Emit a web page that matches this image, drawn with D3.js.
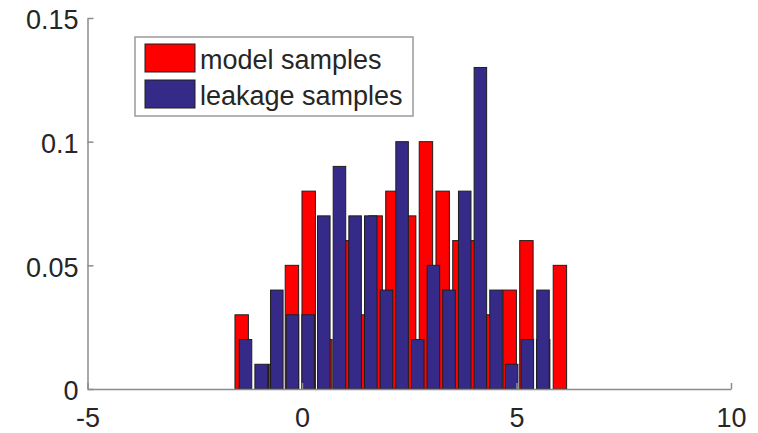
<!DOCTYPE html>
<html>
<head>
<meta charset="utf-8">
<script src="https://cdn.jsdelivr.net/npm/d3@7"></script>
<style>
  html, body { margin: 0; padding: 0; background: #ffffff; }
  svg { display: block; }
  text { font-family: "Liberation Sans", Arial, Helvetica, sans-serif; fill: #262626; }
</style>
</head>
<body>
<svg id="chart" width="758" height="433"></svg>
<script>
// Histogram bin centres and normalised counts for the two sample sets
const modelCenters = [-1.406, -1.015, -0.625, -0.235, 0.156, 0.546, 0.937, 1.327, 1.717, 2.108,
                      2.498, 2.889, 3.279, 3.670, 4.060, 4.450, 4.841, 5.231, 5.622, 6.012];
const modelValues  = [0.03, 0.00, 0.01, 0.05, 0.08, 0.02, 0.06, 0.03, 0.07, 0.08,
                      0.07, 0.10, 0.08, 0.06, 0.06, 0.03, 0.04, 0.06, 0.02, 0.05];

const leakageCenters = [-1.317, -0.952, -0.587, -0.222, 0.143, 0.508, 0.873, 1.238, 1.603, 1.968,
                        2.333, 2.698, 3.063, 3.428, 3.793, 4.158, 4.523, 4.888, 5.253, 5.618];
const leakageValues  = [0.02, 0.01, 0.04, 0.03, 0.03, 0.07, 0.09, 0.07, 0.07, 0.04,
                        0.10, 0.02, 0.05, 0.04, 0.08, 0.13, 0.04, 0.01, 0.02, 0.04];

const seriesNames = ["model samples", "leakage samples"];
const xTicks = [-5, 0, 5, 10];
const xTickLabels = ["-5", "0", "5", "10"];
const yTicks = [0, 0.05, 0.1, 0.15];
const yTickLabels = ["0", "0.05", "0.1", "0.15"];

const colors = ["#ff0000", "#352a87"];
const barFraction = 0.8;

const svg = d3.select("#chart");

const x = d3.scaleLinear().domain([-5, 10]).range([87.5, 731]);
const y = d3.scaleLinear().domain([0, 0.15]).range([389, 18]);

function drawSeries(centers, values, color) {
  const step = centers[1] - centers[0];
  const w = step * barFraction;
  svg.append("g")
    .selectAll("rect")
    .data(centers.map((c, i) => ({ c, v: values[i] })).filter(d => d.v > 0))
    .join("rect")
      .attr("x", d => x(d.c - w / 2))
      .attr("width", d => x(d.c + w / 2) - x(d.c - w / 2))
      .attr("y", d => y(d.v))
      .attr("height", d => y(0) - y(d.v))
      .attr("fill", color)
      .attr("stroke", "#1e1e1e")
      .attr("stroke-width", 1);
}

drawSeries(modelCenters, modelValues, colors[0]);
drawSeries(leakageCenters, leakageValues, colors[1]);

// Axes: only the left and bottom lines, ticks pointing inward
const xAxis = d3.axisBottom(x)
  .tickValues(xTicks)
  .tickFormat((d, i) => xTickLabels[i])
  .tickSizeInner(-6)
  .tickSizeOuter(0)
  .tickPadding(19);

const yAxis = d3.axisLeft(y)
  .tickValues(yTicks)
  .tickFormat((d, i) => yTickLabels[i])
  .tickSizeInner(-6)
  .tickSizeOuter(0)
  .tickPadding(9);

function styleAxis(g) {
  g.select(".domain").attr("stroke", "#8c8c8c").attr("stroke-width", 1.5);
  g.selectAll(".tick line").attr("stroke", "#8c8c8c").attr("stroke-width", 1.5);
  g.selectAll(".tick text")
    .attr("font-size", 27)
    .attr("font-family", "Liberation Sans, Arial, sans-serif")
    .attr("fill", "#262626");
}

svg.append("g")
  .attr("transform", `translate(0,${y(0)})`)
  .call(xAxis)
  .call(styleAxis);

svg.append("g")
  .attr("transform", `translate(${x(-5)},0)`)
  .call(yAxis)
  .call(styleAxis)
  .selectAll(".tick text")
  .attr("dy", "0.4em");

// Legend
const legend = svg.append("g").attr("transform", "translate(135,37)");
legend.append("rect")
  .attr("x", 0).attr("y", 0)
  .attr("width", 278).attr("height", 79)
  .attr("fill", "#ffffff")
  .attr("stroke", "#9a9a9a")
  .attr("stroke-width", 1.5);

seriesNames.forEach((name, i) => {
  const row = legend.append("g").attr("transform", `translate(0,${7 + i * 36})`);
  row.append("rect")
    .attr("x", 10).attr("y", 0)
    .attr("width", 50).attr("height", 28)
    .attr("fill", colors[i])
    .attr("stroke", "#1e1e1e")
    .attr("stroke-width", 1);
  row.append("text")
    .attr("x", 65).attr("y", 16)
    .attr("dy", "0.35em")
    .attr("font-size", 27)
    .text(name);
});
</script>
</body>
</html>
